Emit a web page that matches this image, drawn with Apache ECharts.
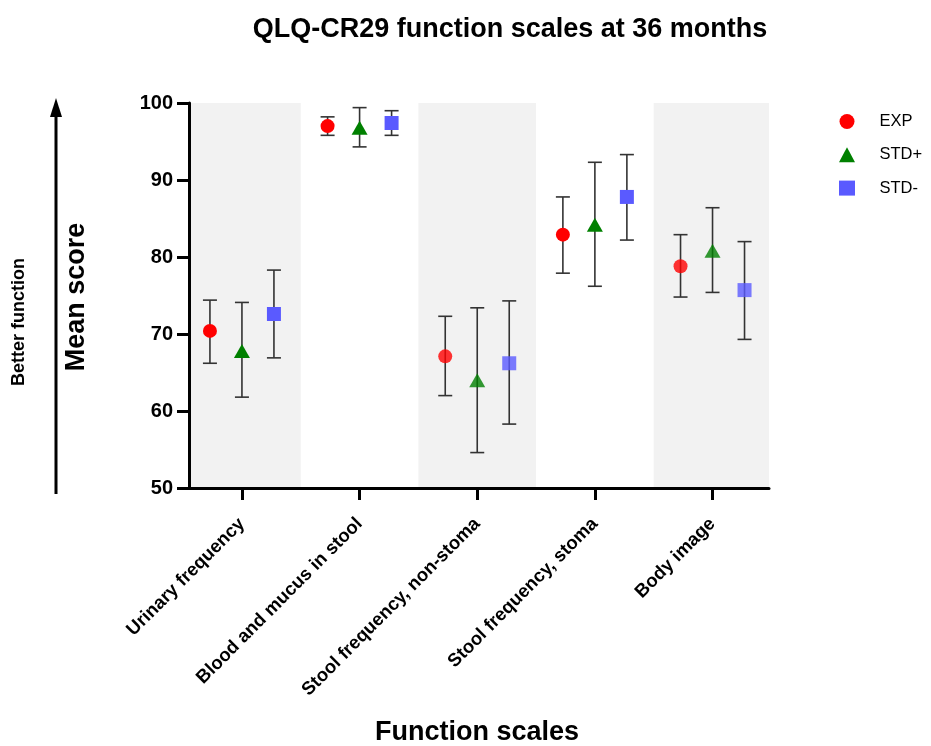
<!DOCTYPE html>
<html>
<head>
<meta charset="utf-8">
<title>QLQ-CR29 function scales at 36 months</title>
<script src="https://cdn.jsdelivr.net/npm/echarts@6/dist/echarts.min.js"></script>
<style>
  html, body { margin: 0; padding: 0; background: #fff; }
  #chart { width: 931px; height: 746px; }
</style>
</head>
<body>
<div id="chart"></div>
<script>
// values (mean and error bar ends)
const categories = ['Urinary frequency', 'Blood and mucus in stool', 'Stool frequency, non-stoma', 'Stool frequency, stoma', 'Body image'];
const yTicks = [50, 60, 70, 80, 90, 100];

const expMean = [70.4, 97.0, 67.1, 82.9, 78.8];
const expLow = [66.2, 95.8, 62.0, 77.9, 74.8];
const expHigh = [74.4, 98.2, 72.3, 87.8, 82.9];

const stdPlusMean = [67.8, 96.8, 64.0, 84.2, 80.8];
const stdPlusLow = [61.8, 94.3, 54.6, 76.2, 75.4];
const stdPlusHigh = [74.1, 99.4, 73.4, 92.3, 86.4];

const stdMinusMean = [72.6, 97.4, 66.2, 87.8, 75.7];
const stdMinusLow = [66.9, 95.8, 58.3, 82.2, 69.3];
const stdMinusHigh = [78.3, 99.0, 74.3, 93.3, 82.0];

const groups = [
  { name: 'EXP', mean: expMean, low: expLow, high: expHigh, color: '#ff0000', symbol: 'circle', size: 14, offset: -0.272 },
  { name: 'STD+', mean: stdPlusMean, low: stdPlusLow, high: stdPlusHigh, color: '#008000', symbol: 'triangle', size: [16, 14], offset: 0 },
  { name: 'STD-', mean: stdMinusMean, low: stdMinusLow, high: stdMinusHigh, color: '#5a5aff', symbol: 'rect', size: 14, offset: 0.272 }
];

const shadedCats = [0, 2, 4];
const fadedCats = [2, 4];   // markers look a little washed out there
const xMin = -0.45, xMax = 4.48;
const font = "'Liberation Sans', Arial, sans-serif";

var chart = echarts.init(document.getElementById('chart'));

function errorBar(params, api) {
  var top = api.coord([api.value(0), api.value(2)]);
  var bottom = api.coord([api.value(0), api.value(1)]);
  var half = 7;
  var style = { stroke: '#333', lineWidth: 1.6 };
  return {
    type: 'group',
    children: [
      { type: 'line', shape: { x1: top[0], y1: top[1], x2: bottom[0], y2: bottom[1] }, style: style },
      { type: 'line', shape: { x1: top[0] - half, y1: top[1], x2: top[0] + half, y2: top[1] }, style: style },
      { type: 'line', shape: { x1: bottom[0] - half, y1: bottom[1], x2: bottom[0] + half, y2: bottom[1] }, style: style }
    ]
  };
}

var series = [];

// grey bands behind every other category
series.push({
  type: 'custom',
  silent: true,
  renderItem: function () { return null; },
  data: [],
  z: 0,
  markArea: {
    silent: true,
    itemStyle: { color: '#f2f2f2' },
    data: shadedCats.map(function (c) {
      return [{ xAxis: Math.max(c - 0.5, xMin) }, { xAxis: Math.min(c + 0.5, xMax) }];
    })
  }
});

groups.forEach(function (g) {
  series.push({
    name: g.name + ' err',
    type: 'custom',
    renderItem: errorBar,
    encode: { x: 0, y: [1, 2] },
    silent: true,
    z: 2,
    data: categories.map(function (c, i) { return [i + g.offset, g.low[i], g.high[i]]; })
  });
  series.push({
    name: g.name,
    type: 'scatter',
    symbol: g.symbol,
    symbolSize: g.size,
    itemStyle: { color: g.color, opacity: 1 },
    z: 3,
    data: categories.map(function (c, i) {
      return {
        value: [i + g.offset, g.mean[i]],
        itemStyle: { opacity: fadedCats.indexOf(i) >= 0 ? 0.8 : 1 }
      };
    })
  });
});

chart.setOption({
  animation: false,
  textStyle: { fontFamily: font },
  title: {
    text: 'QLQ-CR29 function scales at 36 months',
    left: 505,
    textAlign: 'center',
    top: 11,
    textStyle: { fontFamily: font, fontSize: 27, fontWeight: 'bold', color: '#000' }
  },
  legend: {
    data: groups.map(function (g) { return g.name; }),
    orient: 'vertical',
    left: 834,
    top: 108,
    itemWidth: 16,
    itemHeight: 15,
    itemGap: 16.3,
    textStyle: { fontFamily: font, fontSize: 16.5, color: '#000', padding: [0, 0, 0, 19.5] }
  },
  grid: { left: 189, right: 162, top: 103, bottom: 258, containLabel: false },
  xAxis: {
    type: 'value',
    min: xMin,
    max: xMax,
    z: 10,
    splitLine: { show: false },
    axisLine: { show: true, onZero: false, lineStyle: { color: '#000', width: 3 } },
    axisTick: { show: true, length: 12, lineStyle: { color: '#000', width: 3 }, customValues: [0, 1, 2, 3, 4] },
    axisLabel: {
      customValues: [0, 1, 2, 3, 4],
      formatter: function (v) { return categories[Math.round(v)]; },
      rotate: 45,
      margin: 33,
      fontFamily: font,
      fontSize: 18.5,
      fontWeight: 'bold',
      color: '#000'
    }
  },
  yAxis: {
    type: 'value',
    min: 50,
    max: 100,
    interval: 10,
    z: 10,
    splitLine: { show: false },
    axisLine: { show: true, onZero: false, lineStyle: { color: '#000', width: 3 } },
    axisTick: { show: true, length: 12, lineStyle: { color: '#000', width: 3 } },
    axisLabel: {
      margin: 16,
      fontFamily: font,
      fontSize: 20,
      fontWeight: 'bold',
      color: '#000',
      formatter: function (v) { return yTicks.indexOf(v) >= 0 ? String(v) : ''; }
    }
  },
  graphic: [
    { type: 'line', shape: { x1: 56, y1: 115, x2: 56, y2: 494 }, style: { stroke: '#000', lineWidth: 3 } },
    { type: 'polygon', shape: { points: [[56, 98], [50, 117], [62, 117]] }, style: { fill: '#000' } },
    {
      type: 'text', x: 19, y: 322, rotation: Math.PI / 2,
      style: { text: 'Better function', font: 'bold 18px ' + font, fill: '#000', textAlign: 'center', textVerticalAlign: 'middle' }
    },
    {
      type: 'text', x: 77, y: 297, rotation: Math.PI / 2,
      style: { text: 'Mean score', font: 'bold 27px ' + font, fill: '#000', textAlign: 'center', textVerticalAlign: 'middle' }
    },
    {
      type: 'text', x: 477, y: 733,
      style: { text: 'Function scales', font: 'bold 27px ' + font, fill: '#000', textAlign: 'center', textVerticalAlign: 'middle' }
    }
  ],
  series: series
});
</script>
</body>
</html>
